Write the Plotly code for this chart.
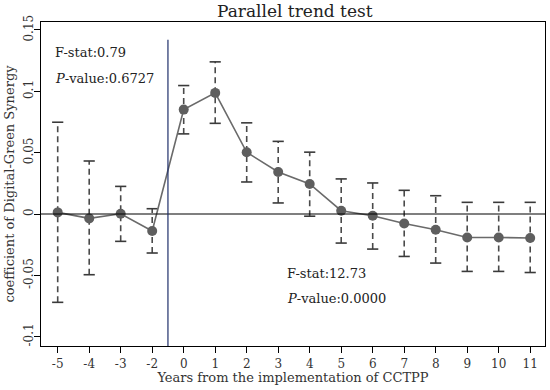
import plotly.graph_objects as go

periods = ["-5", "-4", "-3", "-2", "0", "1", "2", "3", "4", "5", "6", "7", "8", "9", "10", "11"]
coef = [0.0013, -0.0036, 0.0002, -0.0139, 0.0851, 0.0987, 0.0503, 0.0343, 0.0245,
        0.0027, -0.0014, -0.0077, -0.0128, -0.0191, -0.0191, -0.0196]
upper = [0.0748, 0.0432, 0.0225, 0.0043, 0.1047, 0.1240, 0.0743, 0.0592, 0.0504,
         0.0286, 0.0253, 0.0193, 0.0149, 0.0095, 0.0095, 0.0095]
lower = [-0.0720, -0.0495, -0.0223, -0.0318, 0.0653, 0.0739, 0.0261, 0.0090, -0.0018,
         -0.0237, -0.0286, -0.0346, -0.0400, -0.0468, -0.0468, -0.0477]
yticks = [-0.1, -0.05, 0, 0.05, 0.1, 0.15]
ytick_text = ["-0.1", "-0.05", "0", "0.05", "0.1", "0.15"]

FONT = "DejaVu Serif"
idx = list(range(len(periods)))

wx, wy = [], []
for i, lo, hi in zip(idx, lower, upper):
    wx += [i, i, None]
    wy += [lo, hi, None]

fig = go.Figure()
fig.add_trace(go.Scatter(x=wx, y=wy, mode="lines",
                         line=dict(color="#4a4a4a", width=1.6, dash="6px,4px"),
                         hoverinfo="skip", showlegend=False))
fig.add_trace(go.Scatter(x=idx + idx, y=upper + lower, mode="markers",
                         marker=dict(symbol="line-ew", size=8,
                                     line=dict(color="#3a3a3a", width=1.6)),
                         showlegend=False))
fig.add_trace(go.Scatter(x=idx, y=coef, mode="lines+markers",
                         line=dict(color="#6a6a6a", width=1.6),
                         marker=dict(size=10, color="#5e5e5e"),
                         showlegend=False))

fig.add_shape(type="line", xref="paper", yref="y", x0=0, x1=1, y0=0, y1=0,
              line=dict(color="black", width=1.2))
fig.add_shape(type="line", xref="x", yref="y", x0=3.5, x1=3.5, y0=-0.12, y1=0.142,
              line=dict(color="#1f2f6a", width=1.2))

ann_font = dict(family=FONT, size=13, color="#222")
fig.add_annotation(x=0.023, y=0.1316, xref="paper", yref="y", text="F-stat:0.79",
                   showarrow=False, xanchor="left", font=ann_font)
fig.add_annotation(x=0.023, y=0.1105, xref="paper", yref="y", text="<i>P</i>-value:0.6727",
                   showarrow=False, xanchor="left", font=ann_font)
fig.add_annotation(x=0.484, y=-0.0485, xref="paper", yref="y", text="F-stat:12.73",
                   showarrow=False, xanchor="left", font=ann_font)
fig.add_annotation(x=0.484, y=-0.0690, xref="paper", yref="y", text="<i>P</i>-value:0.0000",
                   showarrow=False, xanchor="left", font=ann_font)

fig.update_layout(
    width=550, height=390,
    margin=dict(l=41, r=5, t=22, b=44),
    paper_bgcolor="white", plot_bgcolor="white",
    title=dict(text="Parallel trend test", x=0.536, xanchor="center", y=0.972, yanchor="middle",
               font=dict(family=FONT, size=17, color="#222")),
    font=dict(family=FONT, color="#222"),
)
fig.update_xaxes(range=[-0.53, 15.47], tickmode="array", tickvals=idx, ticktext=periods,
                 showgrid=False, zeroline=False, showline=True, linecolor="black",
                 linewidth=1.2, mirror=True, ticks="outside", ticklen=6, tickcolor="black",
                 tickfont=dict(family=FONT, size=12, color="#333"),
                 title=dict(text="Years from the implementation of CCTPP",
                            font=dict(family=FONT, size=13, color="#333"), standoff=2))
fig.update_yaxes(range=[-0.1076, 0.1565], tickmode="array", tickvals=yticks, ticktext=ytick_text,
                 showgrid=False, zeroline=False, showline=True, linecolor="black",
                 linewidth=1.2, mirror=True, ticks="outside", ticklen=6, tickcolor="black",
                 tickangle=-90, ticklabelstandoff=-4,
                 tickfont=dict(family=FONT, size=12, color="#333"),
                 title=dict(text="coefficient of Digital-Green Synergy",
                            font=dict(family=FONT, size=13, color="#333"), standoff=4))

fig.write_html("out.html", config={"displayModeBar": False},
               post_script="document.body.style.margin='0';document.body.style.overflow='hidden';")
